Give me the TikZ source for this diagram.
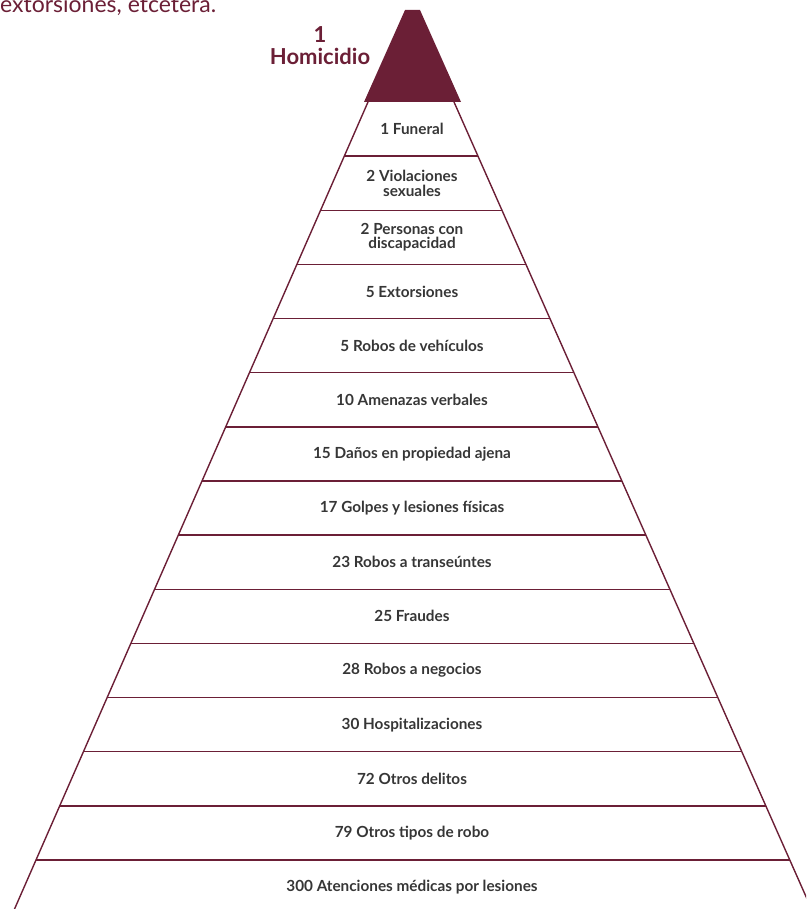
\documentclass[tikz,border=0pt]{standalone}
\usepackage{fontspec}
\setmainfont{Lato}
\definecolor{maroon}{HTML}{6B1F36}
\definecolor{txtgray}{HTML}{363636}
\tikzset{
  band/.style={font=\fontsize{15.3}{14.5}\selectfont\bfseries, text=txtgray, align=center, inner sep=0pt},
  sepline/.style={draw=maroon, line width=1.4pt},
  edgeline/.style={draw=maroon, line width=1.4pt},
  toplabel/.style={font=\fontsize{22}{22}\selectfont\bfseries, text=maroon, inner sep=0pt, anchor=base}
}
\begin{document}
\begin{tikzpicture}[x=1pt,y=-1pt]
\useasboundingbox (0,0) rectangle (806,909);
\begin{scope}
\clip (0,0) rectangle (806,909);
% header text (cut off at top, as in the reference)
\node[anchor=base west, inner sep=0pt, font=\fontsize{23}{24}\selectfont, text=maroon] (hdr) at (0,13) {extorsiones, etcétera.};
% pyramid edges
\coordinate (lt) at (368,102);
\coordinate (rt) at (454,102);
\coordinate (lb) at ({368-0.438*(920-102)},920);
\coordinate (rb) at ({454+0.443*(920-102)},920);
\draw[edgeline] (lt) -- (lb);
\draw[edgeline] (rt) -- (rb);
% separators
\foreach \k in {1,...,14}{
  \pgfmathsetmacro{\yy}{102+54.14*\k}
  \pgfmathsetmacro{\xl}{368-0.438*(\yy-102)}
  \pgfmathsetmacro{\xr}{454+0.443*(\yy-102)}
  \draw[sepline] (\xl,\yy) -- (\xr,\yy);
}
\end{scope}
% top filled triangle
\fill[maroon] (405,10) -- (420,10) -- (461,102) -- (364,102) -- cycle;
\node[toplabel] (one) at (320,43) {1};
\node[toplabel] (hom) at (320,65) {Homicidio};
% band labels
\foreach \k/\t in {1/{1 Funeral},2/{2 Violaciones\\sexuales},3/{2 Personas con\\discapacidad},4/{5 Extorsiones},5/{5 Robos de vehículos},6/{10 Amenazas verbales},7/{15 Daños en propiedad ajena},8/{17 Golpes y lesiones físicas},9/{23 Robos a transeúntes},10/{25 Fraudes},11/{28 Robos a negocios},12/{30 Hospitalizaciones},13/{72 Otros delitos},14/{79 Otros tipos de robo},15/{300 Atenciones médicas por lesiones}}{
  \pgfmathsetmacro{\yc}{102+54.14*(\k-0.5)}
  \node[band] (b\k) at (412,\yc) {\t};
}
\end{tikzpicture}
\end{document}
